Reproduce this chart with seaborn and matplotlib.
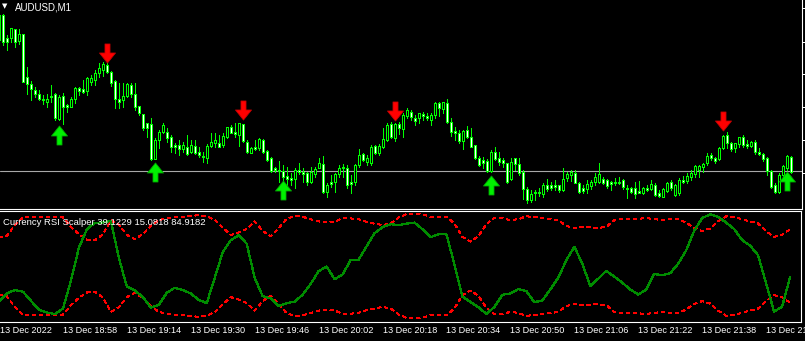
import matplotlib
matplotlib.use("Agg")
import matplotlib.pyplot as plt
from matplotlib.path import Path
import seaborn as sns

# ---------------- data (prices in relative points, higher = up) ----------------
open_p = [285,285,262,262,271,259,266,223,216,210,
          206,201,198,204,206,181,204,195,193,201,
          212,211,209,218,220,227,230,235,228,219,
          201,200,204,215,206,194,186,177,176,141,
          160,168,168,163,155,155,151,153,148,154,
          148,144,142,154,157,157,155,163,173,168,
          165,176,158,147,153,152,160,149,142,132,
          130,129,124,122,121,130,128,127,118,126,
          132,136,108,118,118,126,133,132,118,118,
          135,146,138,137,154,147,153,160,176,162,
          176,171,184,188,182,182,186,184,180,185,
          197,191,197,178,169,167,159,170,163,155,
          142,140,139,129,148,142,140,137,121,142,
          136,128,111,100,108,108,106,115,115,115,
          115,110,122,125,127,117,112,111,114,118,
          118,121,120,118,118,118,120,112,112,112,
          109,107,112,111,115,107,103,109,118,105,
          107,120,119,123,126,130,133,137,145,142,
          141,152,165,157,152,156,163,156,154,158,
          148,146,142,129,115,108,125,132,143]
close_p = [260,258,258,272,258,266,218,216,211,206,
           201,200,201,203,182,203,193,193,201,212,
           209,208,222,222,227,232,236,228,217,201,
           198,204,216,206,193,187,172,172,141,160,
           168,175,162,153,153,151,155,146,155,147,
           145,143,154,158,160,153,164,173,167,166,
           177,159,148,152,151,161,148,140,129,130,
           129,123,121,120,130,128,126,118,128,131,
           137,108,115,116,126,132,132,115,116,135,
           145,140,142,153,147,154,161,175,163,176,
           172,185,190,183,179,187,184,182,185,197,
           192,198,178,168,167,159,169,163,153,142,
           135,137,129,148,141,138,137,118,138,136,
           127,111,100,106,107,107,115,111,112,113,
           110,121,126,128,117,108,109,116,118,123,
           126,117,114,116,117,117,113,111,108,106,
           107,112,110,116,105,104,111,117,112,115,
           120,118,124,127,134,134,136,144,142,139,
           152,164,157,151,157,163,155,154,158,148,
           146,141,129,113,108,125,134,144,128]
high_p = [286,286,265,272,271,271,266,233,219,213,
          210,205,206,215,207,205,207,196,203,213,
          213,220,223,225,230,237,238,239,229,220,
          217,217,217,217,217,194,186,177,182,162,
          170,177,172,165,157,160,158,165,160,160,
          153,148,156,167,167,165,167,173,175,177,
          177,176,160,153,160,162,161,150,143,133,
          139,135,133,127,132,137,132,128,133,133,
          142,144,117,125,127,135,136,135,125,136,
          151,147,145,155,155,156,172,177,178,177,
          178,187,192,190,185,187,188,187,187,198,
          198,198,201,182,173,170,170,174,172,155,
          144,143,141,150,153,148,142,137,142,142,
          142,130,113,110,110,112,117,121,118,120,
          115,132,128,130,130,118,115,120,120,127,
          137,123,121,119,122,123,121,115,113,118,
          119,113,115,120,117,110,112,118,120,116,
          122,124,127,130,135,135,137,147,147,143,
          153,165,168,158,157,163,165,160,159,160,
          152,147,143,130,117,127,135,145,144]
low_p = [256,255,250,258,253,256,218,206,200,203,
         200,196,193,198,180,180,176,188,193,197,
         205,207,205,215,215,223,224,227,214,192,
         192,193,203,203,190,185,170,163,140,141,
         152,167,158,148,147,145,148,145,147,146,
         143,138,137,153,153,153,153,162,167,163,
         154,158,147,147,150,150,147,139,128,128,
         118,118,115,115,112,126,118,115,117,123,
         132,107,103,113,108,123,123,112,107,115,
         133,139,135,135,146,145,152,159,162,159,
         166,163,182,180,175,177,180,180,175,182,
         184,187,177,164,160,157,151,162,153,141,
         134,132,128,128,140,135,133,117,120,130,
         125,101,97,98,100,104,103,109,110,110,
         108,109,119,119,117,107,107,107,111,115,
         117,116,112,110,115,116,111,102,107,102,
         107,106,109,110,104,103,103,108,110,104,
         105,117,117,120,123,123,128,135,140,137,
         140,151,152,149,148,153,153,152,153,146,
         145,139,125,112,107,107,123,130,127]
bar_index = list(range(len(close_p)))

bid_level = 129
price_ticks = [292, 258, 226, 193, 160, 127]

sell_bars = [27, 61, 99, 181]
sell_levels = [247.5, 190, 189.5, 179.5]
buy_bars = [15, 39, 71, 123, 197]
buy_levels = [165.5, 128.5, 110.5, 115.5, 119]

# indicator (sampled every 2 bars)
rsi_bars = list(range(0, 199, 2))
rsi_vals = [16.3,24.3,27.2,25.6,17.0,8.4,5.8,4.5,9.6,36.1,
            67.4,84.9,91.0,91.3,92.9,57.8,30.4,26.9,20.5,10.6,
            13.2,24.6,29.4,27.2,24.0,17.9,14.8,38.7,63.2,74.4,
            79.2,71.2,38.7,21.5,19.2,12.2,14.8,16.3,22.7,32.9,
            45.1,49.5,37.5,42.0,55.5,56.0,68.7,81.1,86.8,89.7,
            88.8,90.2,91.2,84.9,77.3,80.1,80.1,51.4,21.0,16.0,
            10.9,4.5,11.2,22.7,24.0,28.2,26.2,15.7,17.3,27.8,
            39.0,55.3,68.4,52.4,31.0,38.0,45.4,40.0,34.2,27.8,
            23.0,27.5,42.5,41.2,43.1,52.1,64.8,83.3,95.5,99.0,
            96.7,91.3,85.2,74.7,69.3,60.4,33.9,6.8,11.2,39.1]
upper_vals = [77.0,78.9,89.0,96.1,96.7,96.7,96.7,96.7,96.1,87.1,
              80.1,75.1,74.4,80.1,93.5,89.0,79.5,75.6,80.1,88.1,
              93.5,95.5,96.4,96.4,97.4,98.3,97.1,93.8,86.6,79.5,
              81.8,85.2,92.3,83.3,78.2,85.9,94.8,97.4,96.7,94.5,
              92.3,91.3,92.1,95.5,95.2,94.5,91.9,90.2,88.8,90.2,
              95.9,99.3,99.6,99.0,96.7,96.7,96.7,90.4,77.6,73.2,
              78.2,89.7,95.7,95.5,93.5,94.5,97.1,96.7,95.2,94.8,
              93.5,88.1,85.6,87.1,86.6,86.2,87.1,93.5,94.5,94.5,
              94.8,95.5,94.5,93.5,94.5,94.5,91.3,85.9,83.3,85.6,
              92.3,97.1,96.7,94.2,92.3,90.4,83.3,77.6,79.5,84.9]
lower_vals = [23.0,21.1,11.0,3.9,3.3,3.3,3.3,3.3,3.9,12.9,
              19.9,24.9,25.6,19.9,6.5,11.0,20.5,24.4,19.9,11.9,
              6.5,4.5,3.6,3.6,2.6,1.7,2.9,6.2,13.4,20.5,
              18.2,14.8,7.7,16.7,21.8,14.1,5.2,2.6,3.3,5.5,
              7.7,8.7,7.9,4.5,4.8,5.5,8.1,9.8,11.2,9.8,
              4.1,0.7,0.4,1.0,3.3,3.3,3.3,9.6,22.4,26.8,
              21.8,10.3,4.3,4.5,6.5,5.5,2.9,3.3,4.8,5.2,
              6.5,11.9,14.4,12.9,13.4,13.8,12.9,6.5,5.5,5.5,
              5.2,4.5,5.5,6.5,5.5,5.5,8.7,14.1,16.7,14.4,
              7.7,2.9,3.3,5.8,7.7,9.6,16.7,22.4,20.5,15.1]

tick_bars = [0, 16, 32, 48, 64, 80, 96, 112, 128, 144, 160, 176, 192]
tick_labels = ["13 Dec 2022", "13 Dec 18:58", "13 Dec 19:14", "13 Dec 19:30",
               "13 Dec 19:46", "13 Dec 20:02", "13 Dec 20:18", "13 Dec 20:34",
               "13 Dec 20:50", "13 Dec 21:06", "13 Dec 21:22", "13 Dec 21:38",
               "13 Dec 21:54"]
title_text = "AUDUSD,M1"
ind_text = "Currency RSI Scalper 39.1229 15.0818 84.9182"

# ---------------- style ----------------
sns.set_style("dark", rc={"axes.facecolor": "black", "figure.facecolor": "black"})
plt.rcParams["font.family"] = ["Liberation Sans", "DejaVu Sans"]

W, H = 805, 341
fig = plt.figure(figsize=(W / 100, H / 100), dpi=100, facecolor="black")
ax1 = fig.add_axes([0, 1 - 209 / H, 802 / W, 209 / H])
ax2 = fig.add_axes([0, 1 - 322 / H, 801 / W, 111 / H])

LIME = "#00FF00"
XMIN, XMAX = 0.25, 200.75

# candles: wicks, then bodies (white = falling, black = rising)
ax1.vlines(bar_index, low_p, high_p, color=LIME, lw=0.72, antialiased=False, zorder=2)
heights = [c - o for o, c in zip(open_p, close_p)]
fills = ["white" if c < o else "black" for o, c in zip(open_p, close_p)]
ax1.bar(bar_index, heights, bottom=open_p, width=0.62, color=fills, edgecolor=LIME,
        linewidth=0.55, antialiased=False, zorder=3)
ax1.axhline(bid_level, color="#A8A8A8", lw=0.8, zorder=1)

# arrows
up_verts = [(0, 0.5), (0.421, -0.026), (0.132, -0.026), (0.132, -0.5),
            (-0.132, -0.5), (-0.132, -0.026), (-0.421, -0.026), (0, 0.5)]
codes = [Path.MOVETO] + [Path.LINETO] * 6 + [Path.CLOSEPOLY]
up_path = Path(up_verts, codes)
down_path = Path([(x, -y) for x, y in up_verts], codes)
msize = (19 * 0.72) ** 2
sns.scatterplot(x=buy_bars, y=buy_levels, marker=up_path, s=msize, color="#00F000",
                edgecolor="#00A800", linewidth=0.6, ax=ax1, legend=False, zorder=5)
sns.scatterplot(x=sell_bars, y=sell_levels, marker=down_path, s=msize, color="#FF0000",
                edgecolor="#C80000", linewidth=0.6, ax=ax1, legend=False, zorder=5)

ax1.set_xlim(XMIN, XMAX)
ax1.set_ylim(91, 300)
ax1.set_facecolor("black")
ax1.grid(False)
ax1.tick_params(axis="x", bottom=False, labelbottom=False)
ax1.yaxis.tick_right()
ax1.set_yticks(price_ticks)
ax1.set_yticklabels([])
ax1.tick_params(axis="y", colors="white", length=2.2, width=0.72, direction="out")
for s in ["top", "left"]:
    ax1.spines[s].set_visible(False)
for s in ["bottom", "right"]:
    ax1.spines[s].set_color("white")
    ax1.spines[s].set_linewidth(0.8)

# indicator
sns.lineplot(x=rsi_bars, y=upper_vals, color="#FF0000", lw=0.9, linestyle=(0, (2.5, 2.5)),
             ax=ax2, antialiased=False)
sns.lineplot(x=rsi_bars, y=lower_vals, color="#FF0000", lw=0.9, linestyle=(0, (2.5, 2.5)),
             ax=ax2, antialiased=False)
sns.lineplot(x=rsi_bars, y=rsi_vals, color="#008C00", lw=0.9, ax=ax2, antialiased=False)
ax2.set_xlim(XMIN, XMAX)
ax2.set_ylim(-3.1, 102.2)
ax2.set_facecolor("black")
ax2.grid(False)
ax2.set_xlabel("")
ax2.set_ylabel("")
ax2.set_yticks([])
ax2.set_xticks([max(t, XMIN) for t in tick_bars])
ax2.set_xticklabels(tick_labels, ha="left")
ax2.tick_params(axis="x", colors="white", length=2.9, width=0.72, pad=0.3,
                labelsize=6.6, direction="out")
ax2.spines["left"].set_visible(False)
for s in ["top", "bottom", "right"]:
    ax2.spines[s].set_color("white")
    ax2.spines[s].set_linewidth(0.8)

# texts
fig.text(15 / W, 1 - 10 / H, title_text, color="white", fontsize=7, va="baseline", ha="left")
fig.text(2 / W, 1 - 8.5 / H, "\u25BC", color="white", fontsize=5, va="baseline", ha="left",
         family=["DejaVu Sans"])
fig.text(3 / W, 1 - 225 / H, ind_text, color="white", fontsize=6.8, va="baseline", ha="left")

fig.savefig("out.png", dpi=100, facecolor="black")
